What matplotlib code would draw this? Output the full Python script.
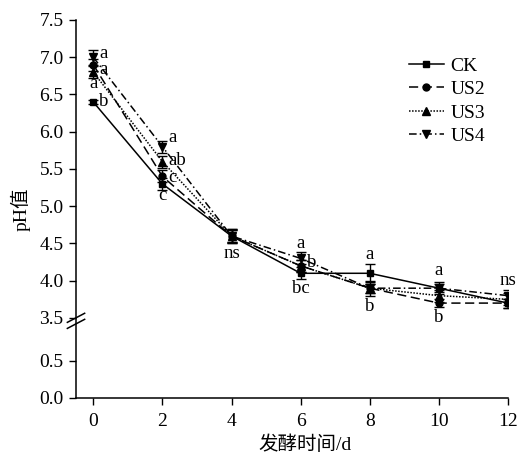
import numpy as np
import matplotlib
matplotlib.use("Agg")
import matplotlib.pyplot as plt
from matplotlib.lines import Line2D

plt.rcParams['font.family'] = ['Liberation Serif', 'Noto Sans CJK SC']

days = [0, 2, 4, 6, 8, 10, 12]
series_names = ["CK", "US2", "US3", "US4"]
ck = [6.40, 5.30, 4.60, 4.10, 4.10, 3.90, 3.70]
us2 = [6.90, 5.40, 4.60, 4.20, 3.90, 3.70, 3.70]
us3 = [6.80, 5.60, 4.60, 4.20, 3.90, 3.80, 3.75]
us4 = [7.00, 5.80, 4.60, 4.30, 3.90, 3.90, 3.80]
ck_err = [0.03, 0.08, 0.10, 0.08, 0.12, 0.05, 0.06]
us2_err = [0.08, 0.08, 0.08, 0.08, 0.06, 0.05, 0.06]
us3_err = [0.08, 0.08, 0.08, 0.08, 0.10, 0.08, 0.08]
us4_err = [0.10, 0.08, 0.10, 0.08, 0.06, 0.08, 0.08]
yticks = [0.0, 0.5, 3.5, 4.0, 4.5, 5.0, 5.5, 6.0, 6.5, 7.0, 7.5]
xticks = [0, 2, 4, 6, 8, 10, 12]

# significance letters: (day, y, text, ha)
letters = [
    (0, 7.05, "a", "left"), (0, 6.84, "a", "left"), (0, 6.65, "a", "center"), (0, 6.40, "b", "left"),
    (2, 5.92, "a", "left"), (2, 5.62, "ab", "left"), (2, 5.39, "c", "left"), (2, 5.15, "c", "center"),
    (4, 4.37, "ns", "center"),
    (6, 4.50, "a", "center"), (6, 4.25, "b", "left"), (6, 3.89, "bc", "center"),
    (8, 4.35, "a", "center"), (8, 3.65, "b", "center"),
    (10, 4.14, "a", "center"), (10, 3.51, "b", "center"),
    (12, 4.00, "ns", "center"),
]

LOW, HIGH, GAPTOP = 0.5, 3.5, 1.074


def fwd(y):
    y = np.asarray(y, dtype=float)
    mid = LOW + (y - LOW) * (GAPTOP - LOW) / (HIGH - LOW)
    return np.where(y <= LOW, y, np.where(y >= HIGH, y - HIGH + GAPTOP, mid))


def inv(d):
    d = np.asarray(d, dtype=float)
    mid = LOW + (d - LOW) * (HIGH - LOW) / (GAPTOP - LOW)
    return np.where(d <= LOW, d, np.where(d >= GAPTOP, d - GAPTOP + HIGH, mid))


fig = plt.figure(figsize=(5.23, 4.57), dpi=100)
ax = fig.add_axes([76 / 523, 1 - 398 / 457, (508 - 76) / 523, (398 - 20) / 457])
ax.set_yscale('function', functions=(fwd, inv))

styles = [
    dict(ls='-', marker='s', ms=4.8),
    dict(ls=(0, (6, 3)), marker='o', ms=5),
    dict(ls=(0, (1, 1)), marker='^', ms=5.5),
    dict(ls=(0, (5, 2, 1, 2)), marker='v', ms=5.5),
]
vals = [ck, us2, us3, us4]
errs = [ck_err, us2_err, us3_err, us4_err]
handles = []
for name, v, e, st in zip(series_names, vals, errs, styles):
    ax.errorbar(days, v, yerr=e, color='black', lw=1.1, elinewidth=1.0,
                capsize=3.5, capthick=1.0, **st)
    handles.append(Line2D([], [], color='black', lw=1.1, label=name, **st))

for d, y, t, ha in letters:
    dx = 0.17 if ha == "left" else 0.0
    ax.text(d + dx, y, t, ha=ha, va='center', fontsize=13.5)

ax.set_xlim(-0.5, 12.0)
ax.set_ylim(0, 7.5)
ax.set_xticks(xticks)
ax.set_yticks(yticks)
ax.set_yticklabels([f"{t:.1f}" for t in yticks])
ax.tick_params(direction='out', length=5, width=1, labelsize=14)
ax.tick_params(axis='y', pad=4)
ax.tick_params(axis='x', pad=6)
ax.spines['top'].set_visible(False)
ax.spines['right'].set_visible(False)
for s in ['left', 'bottom']:
    ax.spines[s].set_linewidth(1.1)

# break marks on y axis at 3.5
yb = ax.transLimits.transform((0, fwd(3.3)))[1]
for off in (-0.008, 0.008):
    ax.plot([-0.02, 0.02], [yb + off - 0.012, yb + off + 0.012], transform=ax.transAxes,
            color='black', lw=1.1, clip_on=False)

ax.set_xlabel("发酵时间/d", fontsize=14)
ax.xaxis.set_label_coords(0.53, -0.1)
ax.set_ylabel("pH值", fontsize=14, labelpad=6)

leg = ax.legend(handles=handles, loc='upper left', bbox_to_anchor=(0.73, 0.948), frameon=False,
                fontsize=14, handlelength=1.8, labelspacing=0.3, handletextpad=0.35)

fig.savefig("out.png", dpi=100)
